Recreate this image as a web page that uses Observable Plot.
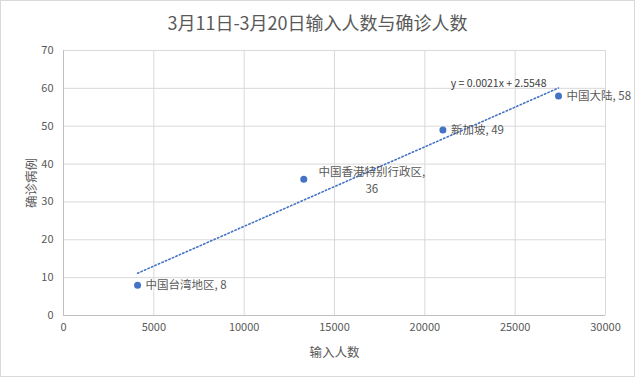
<!DOCTYPE html>
<html>
<head>
<meta charset="utf-8">
<script src="https://cdn.jsdelivr.net/npm/d3@7"></script>
<script src="https://cdn.jsdelivr.net/npm/@observablehq/plot@0.6"></script>
<style>
  html, body { margin: 0; padding: 0; background: #fff; }
  #chart { position: relative; width: 635px; height: 377px; box-sizing: border-box; border: 1px solid #d9d9d9; background: #fff; overflow: hidden; }
  #title { height: 39px; line-height: 42px; text-align: center; font-family: "Noto Sans CJK SC", "Noto Sans", sans-serif; font-size: 18px; color: #595959; }
  #plot svg { display: block; }
</style>
</head>
<body>
<div id="chart">
  <div id="title">3月11日-3月20日输入人数与确诊人数</div>
  <div id="plot"></div>
</div>
<script>
const countries = ["中国台湾地区", "中国香港特别行政区", "新加坡", "中国大陆"];
const imported = [4100, 13300, 21000, 27400];
const confirmed = [8, 36, 49, 58];
const xTicks = [0, 5000, 10000, 15000, 20000, 25000, 30000];
const yTicks = [0, 10, 20, 30, 40, 50, 60, 70];
const trendSlope = 0.0021;
const trendIntercept = 2.5548;
const trendLabel = "y = 0.0021x + 2.5548";
const xTitle = "输入人数";
const yTitle = "确诊病例";

const data = countries.map((c, i) => ({country: c, x: imported[i], y: confirmed[i]}));
const xExt = d3.extent(imported);
const trend = xExt.map(x => ({x, y: trendSlope * x + trendIntercept}));

const font = "'Noto Sans CJK SC', 'Noto Sans', sans-serif";
const grey = "#595959";

const chart = Plot.plot({
  width: 633,
  height: 336,
  marginTop: 10,
  marginBottom: 61,
  marginLeft: 62,
  marginRight: 29,
  style: {fontFamily: font, fontSize: "11px", color: grey, background: "#fff"},
  x: {domain: [0, 30000]},
  y: {domain: [0, 70]},
  marks: [
    Plot.gridX(xTicks, {stroke: "#d9d9d9", strokeOpacity: 1}),
    Plot.gridY(yTicks, {stroke: "#d9d9d9", strokeOpacity: 1}),
    Plot.ruleY([0], {stroke: "#bfbfbf"}),
    Plot.ruleX([0], {stroke: "#bfbfbf"}),
    Plot.axisX(xTicks, {tickSize: 0, tickPadding: 8, tickFormat: d => String(d), fill: grey, fontSize: 11, label: null}),
    Plot.axisY(yTicks, {tickSize: 0, tickPadding: 10, fill: grey, fontSize: 11, label: null}),
    Plot.text([xTitle], {text: d => d, frameAnchor: "bottom", dy: 37, lineAnchor: "middle", fill: grey, fontSize: 12.5}),
    Plot.text([yTitle], {text: d => d, frameAnchor: "left", dx: -32, rotate: -90, textAnchor: "middle", lineAnchor: "middle", fill: grey, fontSize: 12.5}),
    Plot.line(trend, {x: "x", y: "y", stroke: "#4472C4", strokeWidth: 1.6, strokeDasharray: "1.4,2.4"}),
    Plot.dot(data, {x: "x", y: "y", r: 3.5, fill: "#4472C4"}),
    Plot.text(data.filter((d, i) => i !== 1), {x: "x", y: "y", text: d => `${d.country}, ${d.y}`,
      textAnchor: "start", dx: 8, fill: grey, fontSize: 11.5}),
    Plot.text(data.filter((d, i) => i === 1), {x: "x", y: "y", text: d => `${d.country},\n${d.y}`,
      textAnchor: "middle", dx: 68, dy: 0, lineHeight: 1.45, fill: grey, fontSize: 11.5}),
    Plot.text([trend[1]], {x: "x", y: "y", text: () => trendLabel, textAnchor: "end", dx: -12, dy: -4,
      fill: "#404040", fontSize: 10.5})
  ]
});
document.getElementById("plot").appendChild(chart);
</script>
</body>
</html>
